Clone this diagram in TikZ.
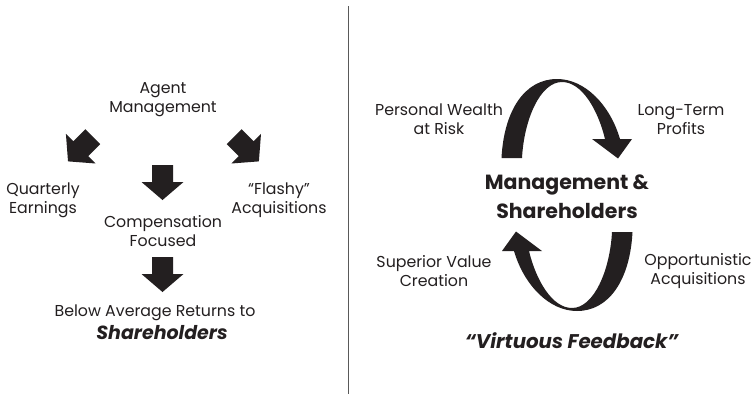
\documentclass[tikz,border=0pt]{standalone}
\usepackage{fontspec}
\setmainfont{Poppins}
\definecolor{ink}{HTML}{231F20}
\tikzset{
  lbl/.style={align=center, inner sep=0pt, text=ink, font=\fontsize{15.8}{19}\selectfont},
  bigbold/.style={align=center, inner sep=0pt, text=ink, font=\fontsize{20.5}{29}\selectfont\bfseries},
  bolditalic/.style={inner sep=0pt, text=ink, font=\fontsize{#1}{20}\selectfont\bfseries\itshape},
  blockarrow/.pic={\fill[ink] (-10.5,-17.5) -- (10.5,-17.5) -- (10.5,-0.5) -- (21,-0.5) -- (0,17.5) -- (-21,-0.5) -- (-10.5,-0.5) -- cycle;},
  arc/.pic={\fill[ink] (501.5,158) .. controls (504,110) and (525,79) .. (557,79)
      .. controls (585,79) and (610,105) .. (620,139)
      -- (632,139) -- (618,158.5) -- (592,139) -- (605,139)
      .. controls (598,110) and (582,82) .. (562,82)
      .. controls (540,82) and (524,120) .. (522,158) -- cycle;}
}
\begin{document}
\begin{tikzpicture}[x=1pt,y=-1pt]
\useasboundingbox (0,0) rectangle (755,394);
\fill[white] (0,0) rectangle (755,394);
% divider
\draw[line width=1.5pt, draw=black!65] (348.3,6) -- (348.3,394);
% left side
\node[lbl] (agent) at (163,100) {Agent\\Management};
\node[lbl] (quarterly) at (43,200) {Quarterly\\Earnings};
\node[lbl] (comp) at (163,231) {Compensation\\Focused};
\node[lbl] (flashy) at (279,200) {“Flashy”\\Acquisitions};
\node[lbl] (below) at (155,313) {Below Average Returns to};
\node[bolditalic=19] (sharel) at (162,333) {Shareholders};
\pic[rotate=-45] at (80.4,149) {blockarrow};
\pic[rotate=45] at (246.5,149) {blockarrow};
\pic at (162.5,182.5) {blockarrow};
\pic at (162.5,274.5) {blockarrow};
% right side
\node[lbl] (wealth) at (439,119.5) {Personal Wealth\\at Risk};
\node[lbl] (profits) at (681,119.5) {Long-Term\\Profits};
\node[bigbold] (mgmt) at (567,197) {Management \&\\Shareholders};
\node[lbl] (superior) at (434,271) {Superior Value\\Creation};
\node[lbl] (opport) at (698,271) {Opportunistic\\Acquisitions};
\node[bolditalic=19.8] (virt) at (571.7,341) {“Virtuous Feedback”};
\pic at (0,0) {arc};
\pic[rotate around={180:(567,195)}] at (0,0) {arc};
\end{tikzpicture}
\end{document}
